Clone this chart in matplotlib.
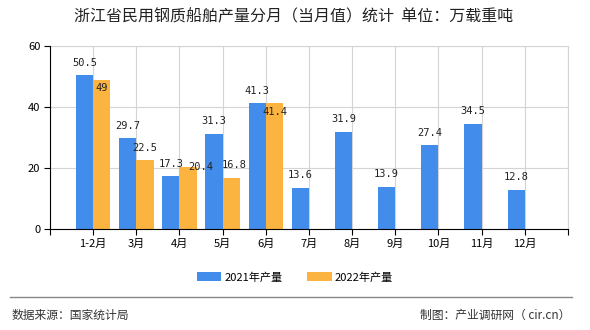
import matplotlib.pyplot as plt
import numpy as np

plt.rcParams['font.family'] = ['Noto Sans CJK SC', 'DejaVu Sans']

months = ['1-2月', '3月', '4月', '5月', '6月', '7月', '8月', '9月', '10月', '11月', '12月']
output_2021 = [50.5, 29.7, 17.3, 31.3, 41.3, 13.6, 31.9, 13.9, 27.4, 34.5, 12.8]
output_2022 = [49, 22.5, 20.4, 16.8, 41.4]
# label nudges for the 2022 series (dx, dy in points) so they don't collide
label_shift_2022 = [(0, -6), (0, 9), (9, 0), (2, 9), (0, -7)]

blue = '#428cec'
orange = '#fcb441'

fig = plt.figure(figsize=(5.9, 3.3), dpi=100)
ax = fig.add_axes([0.0847, 0.306, 0.878, 0.5545])

x = np.arange(len(months))
w = 0.4
b1 = ax.bar(x - w / 2, output_2021, w, color=blue, label='2021年产量', zorder=3)
b2 = ax.bar(np.arange(len(output_2022)) + w / 2, output_2022, w, color=orange,
            label='2022年产量', zorder=3)

for rect, v in zip(b1, output_2021):
    ax.annotate(f'{v:g}', (rect.get_x() + rect.get_width() / 2, v),
                xytext=(0, 9), textcoords='offset points', ha='center', va='center',
                fontsize=7.5, family='DejaVu Sans Mono', color='#222222', zorder=4)
for rect, v, (dx, dy) in zip(b2, output_2022, label_shift_2022):
    ax.annotate(f'{v:g}', (rect.get_x() + rect.get_width() / 2, v),
                xytext=(dx, dy), textcoords='offset points', ha='center', va='center',
                fontsize=7.5, family='DejaVu Sans Mono', color='#222222', zorder=4)

ax.set_xlim(-1, len(months))
ax.set_ylim(0, 60)
ax.set_yticks([0, 20, 40, 60])
ax.set_xticks(np.arange(-1, len(months) + 1))
ax.set_xticklabels([''] + months + [''])
ax.tick_params(axis='both', labelsize=8, length=4, color='black', pad=3)
ax.grid(True, color='#d4d4d4', linewidth=0.8, zorder=0)
for side in ('top', 'right'):
    ax.spines[side].set_color('#d4d4d4')
for side in ('left', 'bottom'):
    ax.spines[side].set_color('black')
    ax.spines[side].set_zorder(5)

fig.text(0.498, 0.948, '浙江省民用钢质船舶产量分月（当月值）统计  单位：万载重吨',
         ha='center', va='center', fontsize=11.5, color='#222222')

fig.legend(handles=[b1, b2], loc='center', bbox_to_anchor=(0.5, 0.16), ncol=2,
           frameon=False, fontsize=8, handlelength=2.2, handleheight=0.8,
           columnspacing=2.2, handletextpad=0.3)

fig.add_artist(plt.Line2D([0.017, 0.97], [0.1, 0.1], color='#888888', linewidth=1))
fig.text(0.02, 0.045, '数据来源：国家统计局', ha='left', va='center', fontsize=8.5, color='#333333')
fig.text(0.966, 0.045, '制图：产业调研网（ cir.cn）', ha='right', va='center', fontsize=8.5, color='#333333')

fig.savefig('out.png', dpi=100)
